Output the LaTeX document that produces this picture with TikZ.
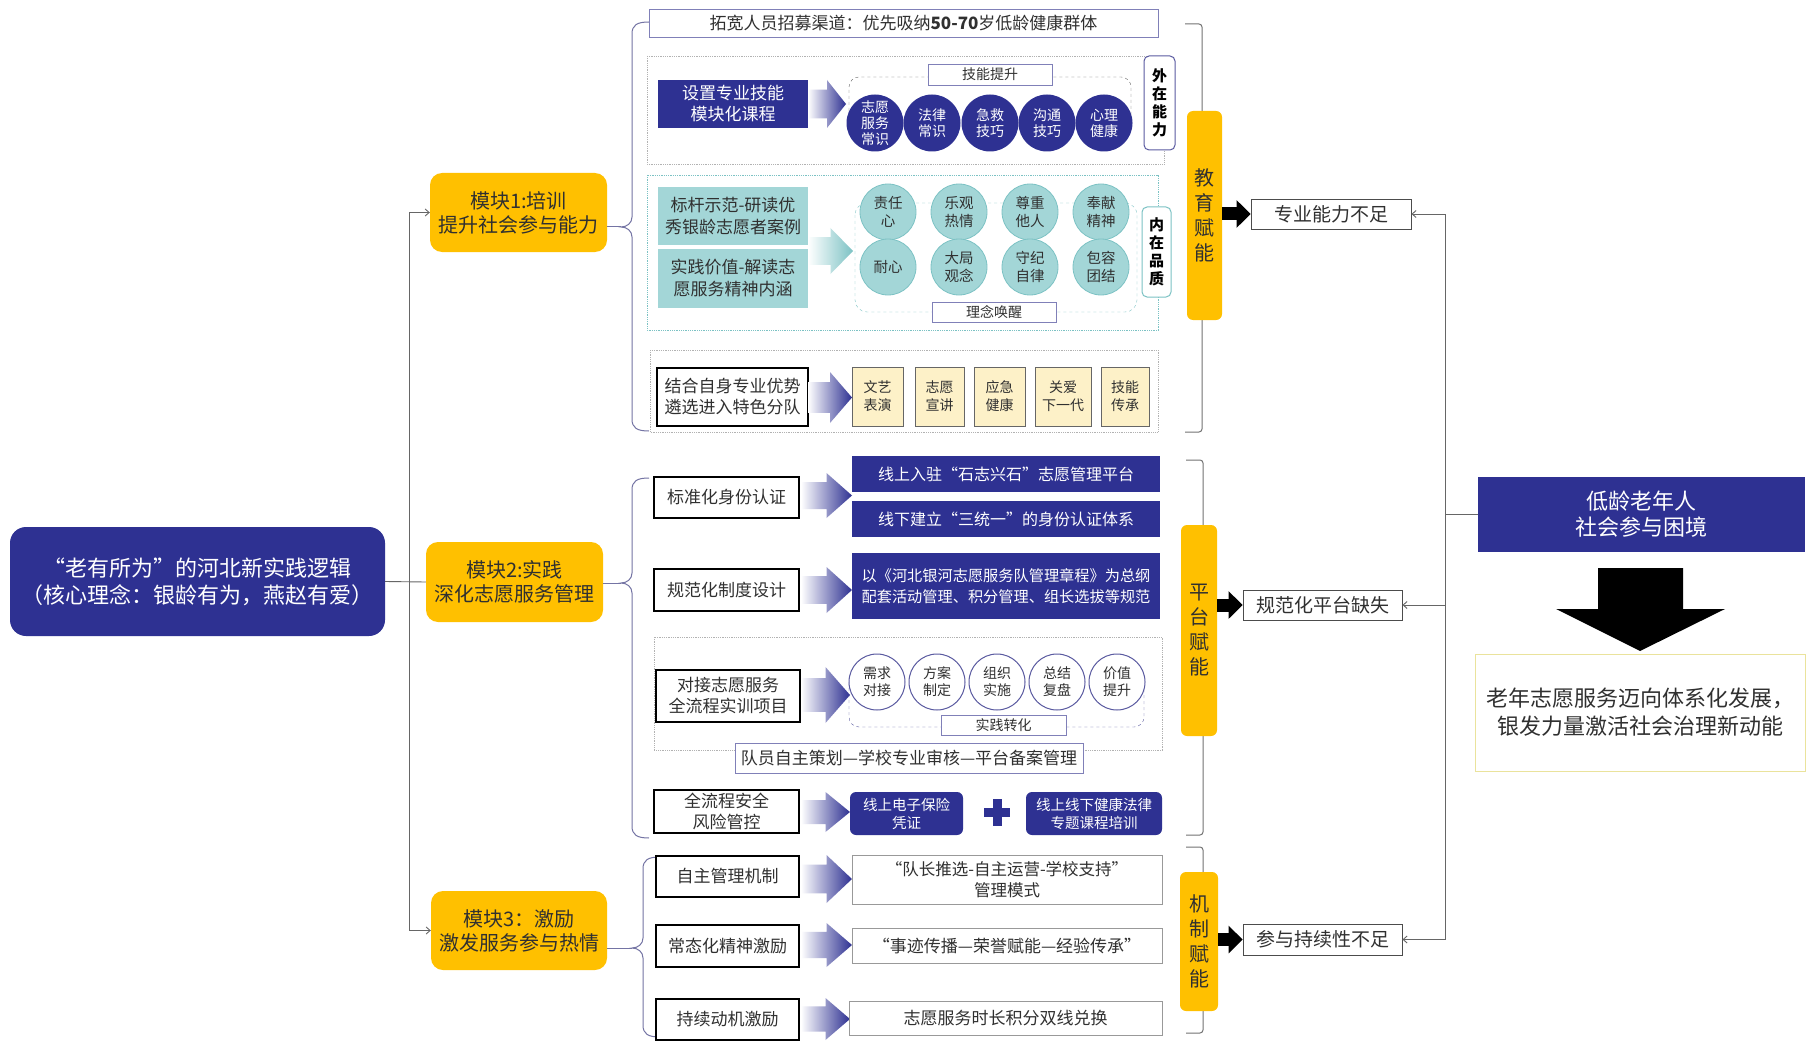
\documentclass[tikz,border=0pt]{standalone}
\usepackage{fontspec}
\setmainfont{Noto Sans CJK SC}
\usetikzlibrary{arrows.meta}
\definecolor{cblue}{HTML}{2E3192}
\definecolor{cyel}{HTML}{FFC000}
\definecolor{cteal}{HTML}{A3D6D7}
\definecolor{cteald}{HTML}{7CC2C4}
\definecolor{ccream}{HTML}{FDF1C8}
\definecolor{cpur}{HTML}{8080B8}
\definecolor{cpurd}{HTML}{5A5AA0}
\definecolor{ctxt}{HTML}{303030}
\definecolor{cline}{HTML}{666666}
\definecolor{cbrace}{HTML}{7474A4}
\definecolor{cres}{HTML}{EAE39C}
\newcommand\fs[2]{\fontsize{#1}{#2}\selectfont}
\newcommand\bx[7]{\node[#1,minimum width={#5-#3},minimum height={#6-#4},inner sep=0pt] (#2) at ({(#3+#5)/2},{(#4+#6)/2}) {#7};}
\newcommand\garr[5]{%
\shade[left color=white,right color=#5] (#1,{#2+0.2*(#4-#2)}) -- ({(#1+#3)/2},{#2+0.2*(#4-#2)}) -- ({(#1+#3)/2},#2) -- (#3,{(#2+#4)/2}) -- ({(#1+#3)/2},#4) -- ({(#1+#3)/2},{#4-0.2*(#4-#2)}) -- (#1,{#4-0.2*(#4-#2)}) -- cycle;}
\newcommand\mybrace[5]{%
\draw[brace] ({#1+17},#2) .. controls ({#1+5},#2) and (#1,{#2+3}) .. (#1,{#2+12})
 -- (#1,{#3-10}) .. controls (#1,{#3-4}) and ({#1-5},#3) .. ({#1-11},#3)
 .. controls ({#1-5},#3) and (#1,{#3+4}) .. (#1,{#3+10})
 -- (#1,{#4-12}) .. controls (#1,{#4-3}) and ({#1+5},#4) .. ({#1+17},#4);
\coordinate (#5) at ({#1-11},#3);}
\newcommand\rbrk[3]{\draw[brk] ({#1-17},#2) -- (#1,#2) -- (#1,#3) -- ({#1-17},#3);}
\begin{document}
\begin{tikzpicture}[x=1pt,y=-1pt,
 mainbox/.style={fill=cblue,rounded corners=16pt,text=white,align=center,font=\fs{22}{27}},
 modbox/.style={fill=cyel,rounded corners=12pt,text=ctxt,align=center,font=\fs{20}{24}},
 vbox/.style={fill=cyel,rounded corners=6pt,text=ctxt,align=center,font=\fs{20}{25}},
 pbox/.style={draw=black!70,line width=0.9pt,fill=white,text=ctxt,align=center,font=\fs{19}{22}},
 bluebox/.style={fill=cblue,text=white,align=center,font=\fs{16}{21}},
 blkbox/.style={draw=black,line width=1.8pt,fill=white,text=ctxt,align=center,font=\fs{17}{21}},
 wbox/.style={draw=black!40,line width=0.9pt,fill=white,text=ctxt,align=center,font=\fs{17}{21}},
 lbl/.style={draw=cpur,line width=0.9pt,fill=white,text=ctxt,align=center,font=\fs{14}{16}},
 tealbox/.style={fill=cteal,text=ctxt,align=center,font=\fs{17}{22}},
 cream/.style={fill=ccream,draw=black!60,line width=0.8pt,text=ctxt,align=center,font=\fs{14}{18}},
 bcirc/.style={circle,fill=cblue,text=white,align=center,font=\fs{14}{16},minimum size=57pt,inner sep=0pt},
 tcirc/.style={circle,fill=cteal,draw=cteald,line width=0.8pt,text=ctxt,align=center,font=\fs{14.5}{18},minimum size=56pt,inner sep=0pt},
 wcirc/.style={circle,fill=white,draw=cpurd,line width=1pt,text=ctxt,align=center,font=\fs{14}{17},minimum size=56pt,inner sep=0pt},
 panel/.style={draw=black!30,densely dotted,line width=0.8pt},
 tag/.style={rounded corners=5pt,fill=white,line width=1pt,align=center,font=\bfseries\fs{15}{18},text=black},
 conn/.style={draw=cline,line width=0.9pt},
 arrowend/.style={-{Straight Barb[length=4pt,width=7pt]}},
 brace/.style={draw=cbrace,line width=1pt},
 brk/.style={draw=black!55,line width=1pt,rounded corners=3pt},
 bigarr/.style={line width=13pt,-{Triangle[length=14pt,width=27pt]}}
]
\fill[white] (0,0) rectangle (1807,1043);
\useasboundingbox (0,0) rectangle (1807,1043);

% ---------- left: core and modules ----------
\bx{mainbox}{main}{10}{527}{385}{636}{“老有所为”的河北新实践逻辑\\（核心理念：银龄有为，燕赵有爱）}
\bx{modbox}{m1}{430}{173}{607}{252}{模块1:培训\\提升社会参与能力}
\bx{modbox}{m2}{426}{542}{603}{622}{模块2:实践\\深化志愿服务管理}
\bx{modbox}{m3}{431}{891}{607}{970}{模块3：激励\\激发服务参与热情}
\coordinate (trunk) at (409,582);
\draw[conn] (main.east) -- (m2.west);
\draw[conn,arrowend] (trunk) |- (m1.west);
\draw[conn,arrowend] (trunk) |- (m3.west);

% ---------- module 1 ----------
\mybrace{632}{22}{227}{431}{b1}
\draw[brace] (m1.east |- b1) -- (b1);
\bx{lbl,font=\fs{17}{20}}{rec}{649}{9}{1158}{37}{拓宽人员招募渠道：优先吸纳\textbf{50-70}岁低龄健康群体}

\draw[panel] (647,56) rectangle (1164,164);
\bx{bluebox,font=\fs{17}{21}}{kc}{658}{80}{808}{128}{设置专业技能\\模块化课程}
\garr{808}{80}{846}{128}{cblue}
\draw[dashed,draw=black!60,rounded corners=10pt] (849,123) |- (1131,77) -- (1131,123);
\node[bcirc] (c1) at (875,123) {志愿\\服务\\常识};
\node[bcirc] (c2) at (932,123) {法律\\常识};
\node[bcirc] (c3) at (990,123) {急救\\技巧};
\node[bcirc] (c4) at (1047,123) {沟通\\技巧};
\node[bcirc] (c5) at (1104,123) {心理\\健康};
\bx{lbl}{jn}{928}{64}{1052}{85}{技能提升}
\bx{tag,draw=cpurd}{wz}{1144}{56}{1175}{150}{外\\在\\能\\力}

\draw[panel,draw=cteald] (647,175) rectangle (1158,330);
\bx{tealbox}{bg}{658}{187}{808}{245}{标杆示范-研读优\\秀银龄志愿者案例}
\bx{tealbox}{sj}{658}{249}{808}{308}{实践价值-解读志\\愿服务精神内涵}
\garr{808}{228}{853}{274}{cteald}
\draw[dashed,draw=cteald,rounded corners=12pt] (855,203) rectangle (1137,312);
\node[tcirc] (t1) at (888,212) {责任\\心};
\node[tcirc] (t2) at (959,212) {乐观\\热情};
\node[tcirc] (t3) at (1030,212) {尊重\\他人};
\node[tcirc] (t4) at (1101,212) {奉献\\精神};
\node[tcirc] (t5) at (888,267) {耐心};
\node[tcirc] (t6) at (959,267) {大局\\观念};
\node[tcirc] (t7) at (1030,267) {守纪\\自律};
\node[tcirc] (t8) at (1101,267) {包容\\团结};
\bx{lbl}{ln}{932}{302}{1056}{322}{理念唤醒}
\bx{tag,draw=cteald}{nz}{1142}{207}{1171}{297}{内\\在\\品\\质}

\draw[panel] (650,350) rectangle (1158,432);
\bx{blkbox}{jh}{657}{368}{808}{426}{结合自身专业优势\\遴选进入特色分队}
\garr{808}{372}{852}{423}{cblue}
\bx{cream}{q1}{852}{367}{903}{426}{文艺\\表演}
\bx{cream}{q2}{915}{367}{964}{426}{志愿\\宣讲}
\bx{cream}{q3}{974}{367}{1025}{426}{应急\\健康}
\bx{cream}{q4}{1035}{367}{1091}{426}{关爱\\下一代}
\bx{cream}{q5}{1101}{367}{1149}{426}{技能\\传承}

% ---------- module 2 ----------
\mybrace{632}{478}{583}{838}{b2}
\draw[brace] (m2.east |- b2) -- (b2);
\bx{blkbox}{bz}{654}{477}{799}{518}{标准化身份认证}
\garr{801}{473}{852}{518}{cblue}
\bx{bluebox}{xs}{852}{456}{1160}{492}{线上入驻“石志兴石”志愿管理平台}
\bx{bluebox}{xx}{852}{501}{1160}{537}{线下建立“三统一”的身份认证体系}
\bx{blkbox}{gf}{654}{569}{799}{611}{规范化制度设计}
\garr{801}{567}{852}{613}{cblue}
\bx{bluebox,font=\fs{15.2}{21}}{zc}{852}{553}{1160}{619}{以《河北银河志愿服务队管理章程》为总纲\\配套活动管理、积分管理、组长选拔等规范}
\draw[panel] (654,637) rectangle (1162,750);
\bx{blkbox}{dj}{656}{670}{800}{722}{对接志愿服务\\全流程实训项目}
\garr{801}{667}{850}{723}{cblue}
\draw[dashed,draw=cpurd,rounded corners=10pt] (849,682) |- (1144,727) -- (1144,682);
\node[wcirc] (w1) at (877,682) {需求\\对接};
\node[wcirc] (w2) at (937,682) {方案\\制定};
\node[wcirc] (w3) at (997,682) {组织\\实施};
\node[wcirc] (w4) at (1057,682) {总结\\复盘};
\node[wcirc] (w5) at (1117,682) {价值\\提升};
\bx{lbl}{sz}{941}{715}{1066}{735}{实践转化}
\bx{lbl,font=\fs{17}{20}}{dy}{735}{743}{1083}{773}{队员自主策划—学校专业审核—平台备案管理}
\bx{blkbox}{aq}{654}{790}{799}{833}{全流程安全\\风险管控}
\garr{801}{792}{850}{832}{cblue}
\bx{bluebox,rounded corners=6pt,font=\fs{14.5}{18}}{ins}{850}{792}{963}{835}{线上电子保险\\凭证}
\fill[cblue] (984,808) rectangle (1010,817);
\fill[cblue] (992.5,799) rectangle (1001.5,826);
\bx{bluebox,rounded corners=6pt,font=\fs{14.5}{18}}{kcp}{1026}{792}{1162}{835}{线上线下健康法律\\专题课程培训}

% ---------- module 3 ----------
\mybrace{643}{857}{948}{1037}{b3}
\draw[brace] (m3.east |- b3) -- (b3);
\bx{blkbox}{zz}{656}{856}{799}{897}{自主管理机制}
\garr{801}{855}{852}{903}{cblue}
\bx{wbox,font=\fs{16.5}{21}}{dz}{852}{855}{1162}{904}{“队长推选-自主运营-学校支持”\\管理模式}
\bx{blkbox}{ct}{656}{925}{799}{967}{常态化精神激励}
\garr{801}{923}{852}{967}{cblue}
\bx{wbox}{sjc}{852}{928}{1162}{963}{“事迹传播—荣誉赋能—经验传承”}
\bx{blkbox}{cx}{656}{999}{799}{1040}{持续动机激励}
\garr{801}{998}{850}{1040}{cblue}
\bx{wbox}{dh}{849}{1001}{1162}{1035}{志愿服务时长积分双线兑换}

% ---------- enabling column ----------
\rbrk{1202}{24}{432}
\rbrk{1203}{460}{835}
\rbrk{1203}{847}{1033}
\bx{vbox}{ed}{1187}{111}{1222}{320}{教\\育\\赋\\能}
\bx{vbox}{pf}{1181}{525}{1217}{736}{平\\台\\赋\\能}
\bx{vbox}{jz}{1180}{872}{1218}{1011}{机\\制\\赋\\能}
\bx{pbox}{p1}{1251}{199}{1411}{229}{专业能力不足}
\bx{pbox}{p2}{1243}{590}{1402}{620}{规范化平台缺失}
\bx{pbox}{p3}{1243}{924}{1402}{955}{参与持续性不足}
\draw[bigarr] (ed.east |- p1.west) -- (p1.west);
\draw[bigarr] (pf.east |- p2.west) -- (p2.west);
\draw[bigarr] (jz.east |- p3.west) -- (p3.west);

% ---------- right side ----------
\bx{bluebox,font=\fs{22}{26}}{low}{1478}{477}{1805}{552}{低龄老年人\\社会参与困境}
\coordinate (junc) at (1445,0);
\draw[conn] (low.west) -- (low.west -| junc);
\draw[conn,arrowend] (low.west -| junc) |- (p1.east);
\draw[conn,arrowend] (low.west -| junc) |- (p2.east);
\draw[conn,arrowend] (low.west -| junc) |- (p3.east);
\fill[black] (1598,568) -- (1683,568) -- (1683,609) -- (1725,609) -- (1640,651) -- (1556,609) -- (1598,609) -- cycle;
\bx{pbox,draw=cres,font=\fs{22}{28}}{res}{1475}{654}{1805}{771}{老年志愿服务迈向体系化发展，\\银发力量激活社会治理新动能}
\end{tikzpicture}
\end{document}
